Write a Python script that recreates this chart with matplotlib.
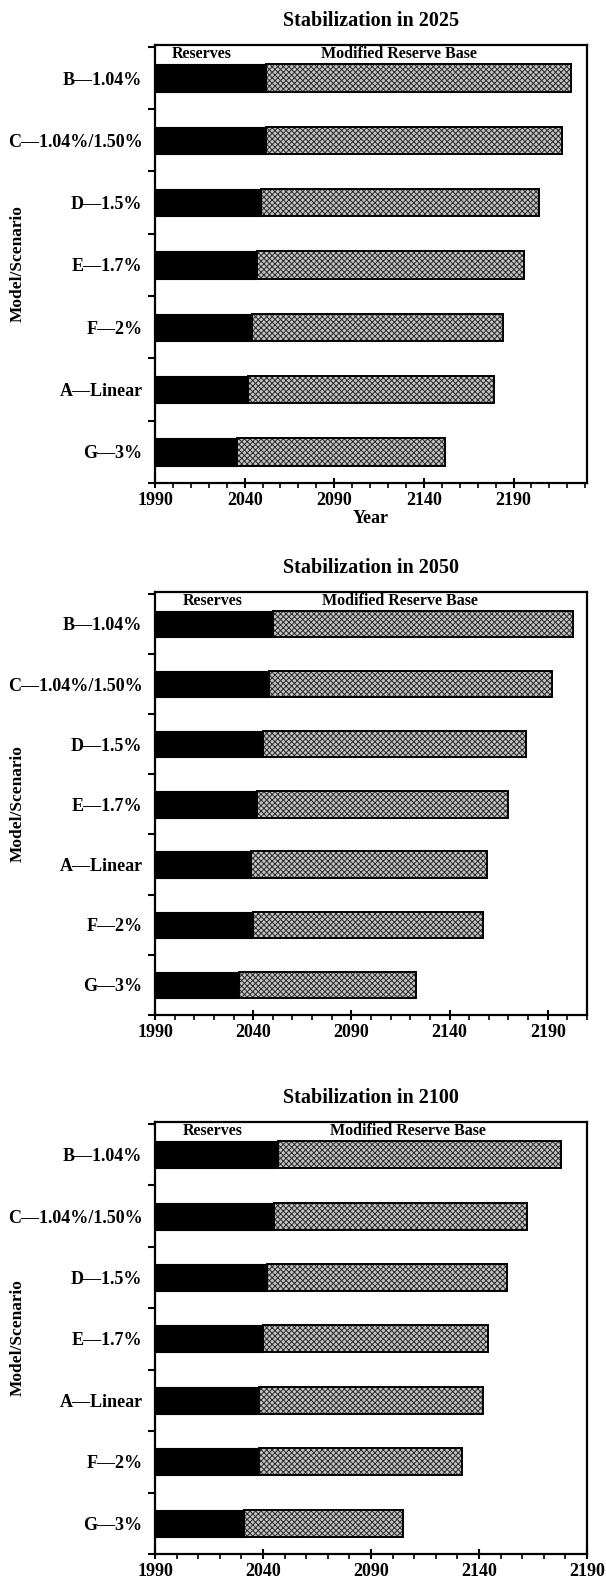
import numpy as np
import matplotlib
matplotlib.use("Agg")
import matplotlib.pyplot as plt
from matplotlib.ticker import FixedLocator

plt.rcParams["font.family"] = ["Liberation Serif", "DejaVu Serif"]
plt.rcParams["font.weight"] = "bold"
plt.rcParams["hatch.linewidth"] = 0.7

# --- data (top to bottom in each panel) ---
titles = ["Stabilization in 2025", "Stabilization in 2050", "Stabilization in 2100"]

labels_2025 = ["B\u20141.04%", "C\u20141.04%/1.50%", "D\u20141.5%", "E\u20141.7%",
               "F\u20142%", "A\u2014Linear", "G\u20143%"]
reserves_2025 = [2052, 2052, 2049, 2047, 2044, 2042, 2036]
mrb_2025 = [2222, 2217, 2204, 2196, 2184, 2179, 2152]

labels_2050 = ["B\u20141.04%", "C\u20141.04%/1.50%", "D\u20141.5%", "E\u20141.7%",
               "A\u2014Linear", "F\u20142%", "G\u20143%"]
reserves_2050 = [2050, 2048, 2045, 2042, 2039, 2040, 2033]
mrb_2050 = [2203, 2192, 2179, 2170, 2159, 2157, 2123]

labels_2100 = ["B\u20141.04%", "C\u20141.04%/1.50%", "D\u20141.5%", "E\u20141.7%",
               "A\u2014Linear", "F\u20142%", "G\u20143%"]
reserves_2100 = [2047, 2045, 2042, 2040, 2038, 2038, 2031]
mrb_2100 = [2178, 2162, 2153, 2144, 2142, 2132, 2105]

start_year = 1990
x_max = [2231, 2210, 2190]
major_years = [1990, 2040, 2090, 2140, 2190]

panels = [
    (labels_2025, reserves_2025, mrb_2025),
    (labels_2050, reserves_2050, mrb_2050),
    (labels_2100, reserves_2100, mrb_2100),
]

# axes boxes in pixels (left, top, right, bottom) of a 606x1581 figure
W, H = 606, 1581
boxes = [(155, 45, 587, 483), (155, 592, 587, 1015), (155, 1122, 587, 1554)]
res_text_x = [0.109, 0.134, 0.134]
mrb_text_x = [0.565, 0.567, 0.585]

fig = plt.figure(figsize=(W / 100, H / 100), dpi=100)

for i, (labels, res, mrb) in enumerate(panels):
    l, t, r, b = boxes[i]
    ax = fig.add_axes([l / W, 1 - b / H, (r - l) / W, (b - t) / H])
    y = np.arange(len(labels))
    res = np.array(res)
    mrb = np.array(mrb)
    bh = 0.44

    ax.barh(y, res - start_year, left=start_year, height=bh, color="black",
            edgecolor="black", linewidth=0.8, zorder=2)
    ax.barh(y, mrb - res, left=res, height=bh, color="#c4c4c4",
            edgecolor="#2a2a2a", hatch="xxxxxx", linewidth=0, zorder=2)
    ax.barh(y, mrb - res, left=res, height=bh, fill=False,
            edgecolor="black", linewidth=1.4, zorder=3)

    ax.set_xlim(start_year, x_max[i])
    ax.set_ylim(len(labels) - 0.5, -0.53)

    ax.xaxis.set_major_locator(FixedLocator(major_years))
    ax.xaxis.set_minor_locator(FixedLocator(np.arange(start_year, x_max[i] + 1, 10)))
    ax.set_yticks(y)
    ax.set_yticklabels(labels)
    ax.yaxis.set_minor_locator(FixedLocator(np.arange(-0.5, len(labels), 1.0)))

    ax.tick_params(axis="y", which="major", length=0, pad=9, labelsize=13)
    ax.tick_params(axis="y", which="minor", length=5, width=1.5, direction="out")
    ax.tick_params(axis="x", which="major", length=7, width=1.5, direction="inout",
                   labelsize=13, pad=3)
    ax.tick_params(axis="x", which="minor", length=3.5, width=1.2, direction="out")
    for lab in ax.get_xticklabels() + ax.get_yticklabels():
        lab.set_fontweight("bold")

    for s in ax.spines.values():
        s.set_linewidth(1.6)

    ax.set_title(titles[i], fontsize=14.5, fontweight="bold", pad=14)
    ax.set_ylabel("Model/Scenario", fontsize=12.5, fontweight="bold")
    ax.yaxis.set_label_coords(-0.3, 0.5)
    if i == 0:
        ax.set_xlabel("Year", fontsize=13, fontweight="bold", labelpad=1)

    ax.text(res_text_x[i], 0.997, "Reserves", transform=ax.transAxes,
            ha="center", va="top", fontsize=11.5, fontweight="bold", zorder=4)
    ax.text(mrb_text_x[i], 0.997, "Modified Reserve Base", transform=ax.transAxes,
            ha="center", va="top", fontsize=11.5, fontweight="bold", zorder=4)

fig.savefig("out.png", dpi=100)
